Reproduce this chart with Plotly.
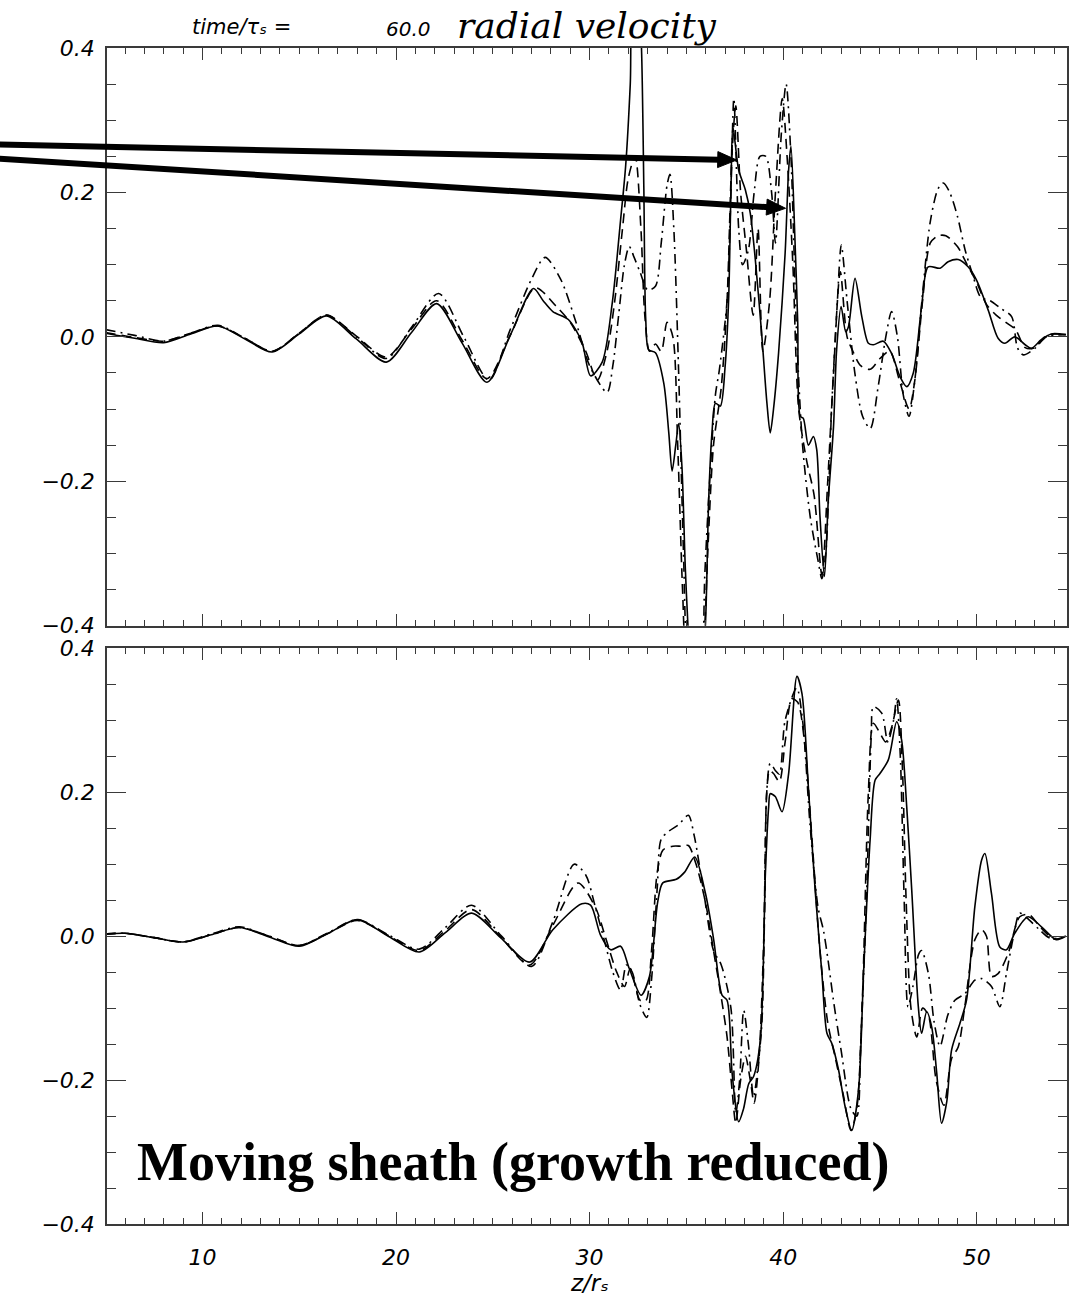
import plotly.graph_objects as go

# ---------------- data: radial velocity vs z/r_s ----------------
# upper panel
z_top_solid = [5.0, 6.5, 8.0, 9.4, 10.8, 12.2, 13.6, 15.0, 16.4, 17.95, 19.5, 20.8, 22.1, 23.4, 24.7, 25.9,
               27.1, 27.6, 28.1, 28.9, 29.6, 30.05, 30.65, 31.17, 31.6, 31.86, 32.1, 32.3, 32.5, 32.68,
               32.8, 32.9, 33.05, 33.4, 33.83, 34.09, 34.26, 34.45, 34.6, 34.77, 34.94, 35.08, 35.3, 35.7,
               35.98, 36.15, 36.32, 36.5, 36.75, 37.0, 37.18, 37.3, 37.4, 37.7, 38.04, 38.3, 38.56, 38.9,
               39.16, 39.33, 39.5, 39.76, 40.1, 40.28, 40.4, 40.6, 40.75, 40.88, 41.04, 41.3, 41.56, 41.73,
               41.9, 42.13, 42.33, 42.6, 42.76, 42.99, 43.23, 43.37, 43.71, 44.06, 44.4, 44.66, 45.17,
               45.6, 46.03, 46.38, 46.72, 47.15, 47.49, 48.1, 48.52, 49.04, 49.55, 49.98, 50.59, 51.1,
               51.45, 51.96, 52.5, 52.82, 53.33, 53.85, 54.6]
v_top_solid = [0.005, -0.002, -0.008, 0.004, 0.015, -0.003, -0.021, 0.004, 0.029, -0.003, -0.035, 0.006,
               0.046, -0.008, -0.063, 0.002, 0.067, 0.05, 0.035, 0.024, -0.007, -0.054, -0.035, 0.047,
               0.162, 0.236, 0.35, 0.5, 0.5, 0.4, 0.208, 0.024, -0.018, -0.022, -0.064, -0.133, -0.186,
               -0.15, -0.12, -0.18, -0.318, -0.4, -0.5, -0.5, -0.4, -0.226, -0.133, -0.092, -0.096, -0.041,
               0.051, 0.2, 0.291, 0.231, 0.204, 0.171, 0.107, 0.0, -0.092, -0.133, -0.1, -0.023, 0.116,
               0.231, 0.264, 0.14, 0.02, -0.11, -0.113, -0.15, -0.138, -0.156, -0.249, -0.332, -0.226,
               -0.124, -0.018, 0.042, 0.007, 0.014, 0.081, 0.028, -0.009, -0.011, -0.006, -0.023, -0.055,
               -0.069, -0.05, 0.042, 0.097, 0.095, 0.104, 0.107, 0.097, 0.079, 0.037, -0.002, -0.009, 0.0,
               -0.011, -0.016, -0.004, 0.004, 0.003]

z_top_dash = [5.0, 6.5, 8.0, 9.4, 10.8, 12.2, 13.6, 15.0, 16.4, 17.95, 19.5, 20.8, 22.1, 23.4, 24.7, 25.95,
              27.2, 28.25, 29.0, 29.8, 30.4, 30.9, 31.3, 31.7, 32.0, 32.35, 32.65, 32.85, 33.1, 33.4, 33.7,
              34.0, 34.3, 34.55, 34.8, 35.0, 35.5, 35.9, 36.1, 36.4, 36.8, 37.1, 37.35, 37.55, 37.8, 38.1,
              38.45, 38.7, 38.95, 39.3, 39.6, 39.95, 40.2, 40.5, 40.8, 41.2, 41.6, 42.0, 42.3, 42.6, 42.95,
              43.3, 43.6, 44.0, 44.5, 45.0, 45.5, 46.0, 46.5, 46.8, 47.2, 47.6, 48.0, 48.4, 49.0, 49.5,
              50.0, 50.5, 51.0, 51.5, 52.0, 52.5, 53.0, 53.5, 54.0, 54.6]
v_top_dash = [0.006, -0.001, -0.006, 0.005, 0.015, -0.002, -0.02, 0.005, 0.03, 0.001, -0.028, 0.011, 0.05,
              -0.004, -0.058, 0.005, 0.068, 0.043, 0.02, -0.02, -0.06, -0.02, 0.05, 0.15, 0.22, 0.25, 0.15,
              0.03, -0.02, -0.01, -0.02, 0.02, 0.0, -0.15, -0.35, -0.45, -0.5, -0.42, -0.3, -0.15, -0.07,
              0.05, 0.25, 0.32, 0.2, 0.12, 0.03, 0.15, -0.02, 0.05, 0.2, 0.33, 0.25, 0.1, -0.1, -0.17,
              -0.22, -0.33, -0.2, -0.05, 0.09, 0.0, -0.02, -0.04, -0.045, -0.03, -0.02, -0.06, -0.1, -0.06,
              0.05, 0.13, 0.14, 0.14, 0.125, 0.1, 0.075, 0.045, 0.03, 0.02, 0.01, -0.015, -0.015, 0.0,
              0.004, 0.003]

z_top_dashdot = [5.0, 6.5, 8.0, 9.4, 10.8, 12.2, 13.6, 15.0, 16.4, 17.95, 19.5, 20.85, 22.2, 23.5, 24.8,
                 25.9, 27.0, 27.7, 28.5, 29.3, 30.0, 30.9, 31.2, 31.5, 31.8, 32.05, 32.3, 32.6, 33.0, 33.4,
                 33.7, 34.0, 34.15, 34.35, 34.6, 34.85, 35.05, 35.4, 35.8, 35.95, 36.2, 36.5, 36.7, 37.1,
                 37.3, 37.45, 37.7, 37.9, 38.2, 38.5, 38.8, 39.1, 39.4, 39.6, 39.9, 40.15, 40.4, 40.7, 41.0,
                 41.4, 41.8, 42.0, 42.2, 42.5, 42.8, 43.0, 43.3, 43.7, 44.1, 44.5, 44.9, 45.3, 45.6, 45.9,
                 46.2, 46.5, 46.8, 47.2, 47.6, 48.0, 48.27, 48.6, 49.0, 49.4, 49.8, 50.2, 50.7, 51.2, 51.8,
                 52.1, 52.4, 53.0, 53.6, 54.6]
v_top_dashdot = [0.01, 0.002, -0.006, 0.005, 0.016, -0.002, -0.02, 0.005, 0.03, 0.0, -0.03, 0.015, 0.06,
                 0.0, -0.06, 0.01, 0.08, 0.11, 0.08, 0.02, -0.04, -0.077, -0.04, 0.03, 0.1, 0.125, 0.11,
                 0.09, 0.065, 0.07, 0.13, 0.21, 0.225, 0.15, -0.05, -0.3, -0.45, -0.5, -0.45, -0.33, -0.2,
                 -0.08, -0.046, 0.05, 0.2, 0.33, 0.15, 0.1, 0.12, 0.2, 0.25, 0.25, 0.2, 0.13, 0.28, 0.35,
                 0.25, 0.0, -0.15, -0.25, -0.31, -0.335, -0.3, -0.1, 0.05, 0.127, 0.05, -0.05, -0.11,
                 -0.127, -0.07, 0.0, 0.035, 0.0, -0.08, -0.11, -0.06, 0.06, 0.16, 0.205, 0.213, 0.2, 0.167,
                 0.12, 0.085, 0.055, 0.05, 0.04, 0.028, -0.015, -0.025, -0.016, 0.0, 0.003]

# lower panel
z_bot_solid = [5.0, 6.0, 7.5, 9.0, 10.45, 11.9, 13.45, 15.0, 16.5, 18.0, 19.6, 21.2, 22.55, 23.9, 25.4,
               26.9, 28.1, 29.6, 30.05, 30.57, 31.09, 31.6, 32.05, 32.66, 33.09, 33.52, 33.78, 34.48,
               34.91, 35.43, 35.98, 36.41, 36.84, 37.1, 37.36, 37.7, 37.95, 38.22, 38.47, 38.82, 39.08,
               39.25, 39.33, 39.59, 39.94, 40.28, 40.71, 40.97, 41.31, 41.65, 42.0, 42.26, 42.51, 42.86,
               43.2, 43.54, 43.89, 44.15, 44.49, 44.75, 45.0, 45.43, 45.86, 46.12, 46.38, 46.64, 46.98,
               47.15, 47.41, 47.67, 47.93, 48.18, 48.45, 48.7, 49.13, 49.47, 49.9, 50.25, 50.42, 50.76,
               51.19, 51.53, 51.96, 52.65, 53.34, 54.11, 54.6]
v_bot_solid = [0.003, 0.004, -0.002, -0.008, 0.002, 0.012, -0.001, -0.014, 0.004, 0.023, 0.0, -0.022,
               0.005, 0.032, -0.002, -0.036, 0.009, 0.045, 0.043, 0.001, -0.019, -0.014, -0.045, -0.082,
               -0.056, 0.048, 0.074, 0.079, 0.089, 0.11, 0.06, -0.005, -0.082, -0.089, -0.19, -0.258,
               -0.24, -0.205, -0.195, -0.144, 0.087, 0.18, 0.198, 0.194, 0.173, 0.226, 0.361, 0.337,
               0.203, 0.064, -0.052, -0.135, -0.149, -0.186, -0.237, -0.27, -0.214, -0.052, 0.134,
               0.217, 0.226, 0.245, 0.298, 0.272, 0.18, 0.064, -0.098, -0.135, -0.105, -0.126, -0.19,
               -0.26, -0.23, -0.158, -0.121, -0.089, 0.041, 0.106, 0.115, 0.059, -0.015, -0.019, 0.004,
               0.027, 0.013, -0.005, 0.0]

z_bot_dash = [5.0, 6.0, 7.5, 9.0, 10.45, 11.9, 13.45, 15.0, 16.5, 18.0, 19.6, 21.2, 22.55, 23.9, 25.4,
              26.9, 28.1, 29.4, 30.3, 30.8, 31.4, 31.8, 32.1, 32.6, 32.9, 33.2, 33.5, 33.8, 34.3, 34.8,
              35.1, 35.5, 36.0, 36.4, 36.8, 37.1, 37.36, 37.55, 37.8, 38.05, 38.3, 38.5, 38.75, 39.0,
              39.15, 39.3, 39.5, 39.8, 40.1, 40.45, 40.75, 41.1, 41.5, 41.9, 42.3, 42.7, 43.1, 43.5, 43.8,
              44.1, 44.4, 44.66, 45.0, 45.3, 45.6, 45.95, 46.15, 46.35, 46.6, 46.9, 47.2, 47.5, 47.9,
              48.3, 48.7, 49.04, 49.38, 49.9, 50.25, 50.5, 50.76, 51.1, 51.62, 52.22, 52.7, 53.3, 54.0,
              54.6]
v_bot_dash = [0.003, 0.004, -0.002, -0.008, 0.002, 0.012, 0.0, -0.013, 0.004, 0.022, 0.001, -0.02, 0.008,
              0.037, -0.001, -0.04, 0.015, 0.074, 0.04, 0.0, -0.05, -0.07, -0.045, -0.089, -0.09, -0.02,
              0.09, 0.12, 0.125, 0.125, 0.126, 0.1, 0.045, -0.02, -0.085, -0.14, -0.214, -0.26, -0.2,
              -0.167, -0.2, -0.232, -0.17, 0.0, 0.2, 0.23, 0.226, 0.215, 0.27, 0.33, 0.325, 0.27, 0.13,
              -0.02, -0.12, -0.17, -0.22, -0.27, -0.24, -0.08, 0.2, 0.296, 0.282, 0.27, 0.29, 0.328, 0.24,
              0.05, -0.1, -0.14, -0.1, -0.11, -0.2, -0.235, -0.17, -0.154, -0.098, -0.005, 0.009, 0.0,
              -0.056, -0.052, -0.024, 0.027, 0.03, 0.012, -0.004, 0.0]

z_bot_dashdot = [5.0, 6.0, 7.5, 9.0, 10.45, 11.9, 13.45, 15.0, 16.5, 18.0, 19.6, 21.2, 22.55, 23.9, 25.45,
                 27.0, 28.1, 29.2, 29.8, 30.3, 30.8, 31.2, 31.6, 31.9, 32.2, 32.6, 32.95, 33.2, 33.5, 33.7,
                 34.1, 34.6, 35.1, 35.4, 35.9, 36.4, 36.8, 37.3, 37.55, 37.75, 37.96, 38.2, 38.47, 38.7,
                 38.9, 39.05, 39.15, 39.33, 39.6, 39.8, 40.1, 40.7, 41.0, 41.4, 41.8, 42.08, 42.3, 42.6,
                 43.0, 43.5, 43.8, 44.0, 44.3, 44.55, 44.66, 45.09, 45.4, 45.7, 45.86, 46.05, 46.25, 46.45,
                 46.7, 47.0, 47.15, 47.5, 47.8, 48.1, 48.5, 48.87, 49.38, 49.9, 50.25, 50.76, 51.19, 51.53,
                 51.9, 52.22, 52.6, 53.2, 53.8, 54.6]
v_bot_dashdot = [0.003, 0.004, -0.002, -0.008, 0.003, 0.013, 0.0, -0.013, 0.005, 0.023, 0.002, -0.018,
                 0.012, 0.043, 0.0, -0.042, 0.02, 0.1, 0.085, 0.04, -0.01, -0.05, -0.075, -0.04, -0.05,
                 -0.095, -0.113, -0.06, 0.07, 0.135, 0.146, 0.155, 0.168, 0.14, 0.06, -0.02, -0.04, -0.1,
                 -0.246, -0.2, -0.103, -0.15, -0.223, -0.18, -0.12, 0.05, 0.2, 0.24, 0.23, 0.225, 0.3,
                 0.345, 0.3, 0.15, 0.04, 0.008, -0.03, -0.09, -0.16, -0.24, -0.25, -0.15, 0.05, 0.28,
                 0.319, 0.31, 0.27, 0.3, 0.33, 0.25, 0.05, -0.098, -0.07, -0.025, -0.02, -0.052, -0.12,
                 -0.153, -0.11, -0.089, -0.08, -0.061, -0.059, -0.07, -0.098, -0.052, 0.0, 0.032, 0.025,
                 0.01, -0.003, 0.0]

x_ticks = [10, 20, 30, 40, 50]
x_ticktext = ["10", "20", "30", "40", "50"]
y_ticks = [-0.4, -0.2, 0.0, 0.2, 0.4]
y_ticktext = ["\u22120.4", "\u22120.2", "0.0", "0.2", "0.4"]

# ---------------- layout geometry (pixels) ----------------
W, H = 1069, 1301
M_L, M_R, M_T, M_B = 107, 0, 48, 77
PLOT_W = W - M_L - M_R
PLOT_H = H - M_T - M_B

AXIS_COLOR = "#3a3a3a"
DASH = "10px,6px"
DASHDOT = "10px,5px,2px,5px"

fig = go.Figure()


def add_curve(z, v, dash, xa, ya):
    fig.add_trace(go.Scatter(
        x=z, y=v, mode="lines", xaxis=xa, yaxis=ya, hoverinfo="skip",
        line=dict(color="black", width=1.6, dash=dash, shape="spline", smoothing=0.8),
    ))


add_curve(z_top_dashdot, v_top_dashdot, DASHDOT, "x", "y")
add_curve(z_top_dash, v_top_dash, DASH, "x", "y")
add_curve(z_top_solid, v_top_solid, "solid", "x", "y")
add_curve(z_bot_dashdot, v_bot_dashdot, DASHDOT, "x2", "y2")
add_curve(z_bot_dash, v_bot_dash, DASH, "x2", "y2")
add_curve(z_bot_solid, v_bot_solid, "solid", "x2", "y2")

tick_font = dict(family="DejaVu Sans", size=22, color="black", style="italic")


def x_axis(show_labels, anchor):
    return dict(
        range=[5.07, 54.66], anchor=anchor, showgrid=False, zeroline=False,
        showline=True, linecolor=AXIS_COLOR, linewidth=1.5, mirror="ticks",
        ticks="inside", ticklen=12, tickwidth=1.2, tickcolor=AXIS_COLOR,
        tickvals=x_ticks, ticktext=x_ticktext, showticklabels=show_labels,
        tickfont=tick_font, ticklabelstandoff=13,
        minor=dict(dtick=1, tick0=0, ticks="inside", ticklen=6, tickwidth=1.2,
                   tickcolor=AXIS_COLOR, showgrid=False),
    )


def y_axis(domain, anchor):
    return dict(
        range=[-0.4, 0.4], domain=domain, anchor=anchor, showgrid=False, zeroline=False,
        showline=True, linecolor=AXIS_COLOR, linewidth=1.5, mirror="ticks",
        ticks="inside", ticklen=19, tickwidth=1.2, tickcolor=AXIS_COLOR,
        tickvals=y_ticks, ticktext=y_ticktext, tickfont=tick_font, ticklabelstandoff=6,
        minor=dict(dtick=0.05, tick0=0, ticks="inside", ticklen=9, tickwidth=1.2,
                   tickcolor=AXIS_COLOR, showgrid=False),
    )


def px_to_paper(px, py):
    return (px - M_L) / PLOT_W, (H - M_B - py) / PLOT_H


def arrow_shapes(tail, tip, width=6, head_len=19, head_half=8):
    """Thick pointer arrow drawn as a line plus a filled triangular head (pixel input)."""
    dx, dy = tip[0] - tail[0], tip[1] - tail[1]
    n = (dx * dx + dy * dy) ** 0.5
    ux, uy = dx / n, dy / n
    bx, by = tip[0] - head_len * ux, tip[1] - head_len * uy
    c1 = (bx - head_half * uy, by + head_half * ux)
    c2 = (bx + head_half * uy, by - head_half * ux)
    x0, y0 = px_to_paper(*tail)
    x1, y1 = px_to_paper(bx + 1.5 * ux, by + 1.5 * uy)
    pts = [px_to_paper(*p) for p in (tip, c1, c2)]
    path = "M {:.5f} {:.5f} L {:.5f} {:.5f} L {:.5f} {:.5f} Z".format(
        pts[0][0], pts[0][1], pts[1][0], pts[1][1], pts[2][0], pts[2][1])
    return [
        dict(type="line", xref="paper", yref="paper", x0=x0, y0=y0, x1=x1, y1=y1,
             line=dict(color="black", width=width), layer="above"),
        dict(type="path", xref="paper", yref="paper", path=path,
             fillcolor="black", line=dict(color="black", width=1), layer="above"),
    ]


shapes = arrow_shapes((-5, 144.5), (738, 160)) + arrow_shapes((-5, 158.4), (787, 208.3))

annotations = [
    # heading
    dict(xref="paper", yref="paper", x=0.5, y=1.019, xanchor="center", yanchor="middle",
         text="<i>radial velocity</i>", showarrow=False,
         font=dict(family="DejaVu Serif", size=36, color="black")),
    dict(xref="paper", yref="paper", x=0.086, y=1.018, xanchor="left", yanchor="middle",
         text="<i>time/\u03c4\u209b =</i>", showarrow=False,
         font=dict(family="DejaVu Sans", size=21, color="black")),
    dict(xref="paper", yref="paper", x=0.289, y=1.016, xanchor="left", yanchor="middle",
         text="<i>60.0</i>", showarrow=False,
         font=dict(family="DejaVu Sans", size=20, color="black")),
    # x-axis title
    dict(xref="x2", yref="paper", x=30, y=-0.05, xanchor="center", yanchor="middle",
         text="<i>z/r\u209b</i>", showarrow=False,
         font=dict(family="DejaVu Sans", size=23, color="black")),
    # panel label
    dict(xref="x2", yref="y2", x=6.5, y=-0.314, xanchor="left", yanchor="middle",
         text="<b>Moving sheath (growth reduced)</b>", showarrow=False,
         font=dict(family="Liberation Serif", size=54, color="black")),
]

fig.update_layout(
    width=W, height=H,
    margin=dict(l=M_L, r=M_R, t=M_T, b=M_B),
    paper_bgcolor="white", plot_bgcolor="white",
    showlegend=False,
    xaxis=x_axis(False, "y"),
    yaxis=y_axis([0.5088, 1.0], "x"),
    xaxis2=x_axis(True, "y2"),
    yaxis2=y_axis([0.0, 0.4895], "x2"),
    shapes=shapes,
    annotations=annotations,
)

fig.write_html("out.html")
